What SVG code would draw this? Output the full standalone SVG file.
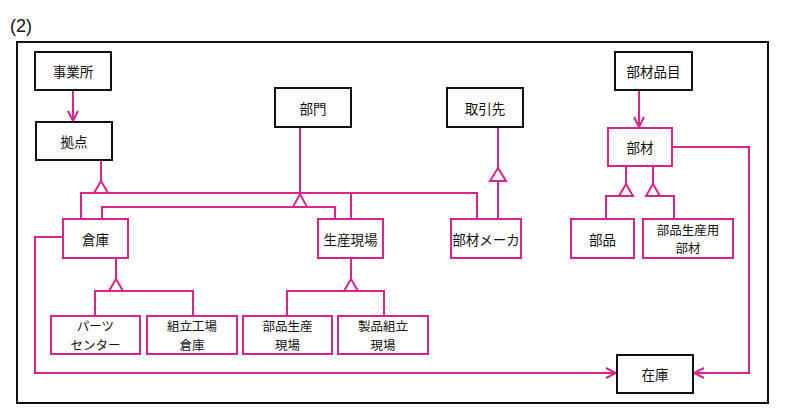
<svg xmlns="http://www.w3.org/2000/svg" width="800" height="418" viewBox="0 0 800 418">
<defs>
<style>
.bk{fill:#fff;stroke:#111;stroke-width:2}
.pk{fill:#fff;stroke:#d6268c;stroke-width:2}
.ln{fill:none;stroke:#d6268c;stroke-width:2}
.tri{fill:#fff;stroke:#d6268c;stroke-width:2;stroke-linejoin:miter}
text{font-family:"Noto Sans CJK JP","Noto Sans",sans-serif;font-size:13.5px;fill:#111;text-anchor:middle;dominant-baseline:central}
text.s{font-size:12.5px}
</style>
<marker id="arr" viewBox="0 0 12 12" refX="11" refY="6" markerWidth="12" markerHeight="12" markerUnits="userSpaceOnUse" orient="auto">
<path d="M1,1 L11,6 L1,11" fill="none" stroke="#d6268c" stroke-width="2"/>
</marker>
</defs>
<rect width="800" height="418" fill="#fff"/>
<text x="21" y="26" style="font-family:'Liberation Sans',sans-serif;font-size:18px">(2)</text>
<rect x="17" y="42" width="751" height="361" fill="none" stroke="#111" stroke-width="2"/>

<g id="connectors">
<line class="ln" x1="73" y1="90" x2="73" y2="121" marker-end="url(#arr)"/>
<line class="ln" x1="639" y1="90" x2="639" y2="127" marker-end="url(#arr)"/>
<line class="ln" x1="101" y1="160" x2="101" y2="181"/>
<polyline class="ln" points="81,219 81,193 477,193 477,219"/>
<line class="ln" x1="351" y1="193" x2="351" y2="219"/>
<polygon class="tri" points="101,181 94,193 108,193"/>
<line class="ln" x1="300" y1="127" x2="300" y2="194"/>
<polyline class="ln" points="102,219 102,207 335,207 335,219"/>
<polygon class="tri" points="300,194 293,207 307,207"/>
<line class="ln" x1="498" y1="127" x2="498" y2="219"/>
<polygon class="tri" points="498,168 490,181 506,181"/>
<line class="ln" x1="116" y1="258" x2="116" y2="279"/>
<polyline class="ln" points="95,316 95,291 193,291 193,316"/>
<polygon class="tri" points="116,279 109,291 123,291"/>
<line class="ln" x1="351" y1="258" x2="351" y2="279"/>
<polyline class="ln" points="287,316 287,291 384,291 384,316"/>
<polygon class="tri" points="351,279 344,291 358,291"/>
<line class="ln" x1="626" y1="166" x2="626" y2="184"/>
<polyline class="ln" points="606,219 606,196 626,196"/>
<polygon class="tri" points="626,184 619,196 633,196"/>
<line class="ln" x1="653" y1="166" x2="653" y2="184"/>
<polyline class="ln" points="653,196 674,196 674,219"/>
<polygon class="tri" points="653,184 646,196 660,196"/>
<polyline class="ln" points="672,147 749,147 749,373 694,373" marker-end="url(#arr)"/>
<polyline class="ln" points="63,237 35,237 35,373 616,373" marker-end="url(#arr)"/>
</g>

<g id="n-jigyosho"><rect class="bk" x="35" y="52" width="76" height="38"/><text x="73" y="71">事業所</text></g>
<g id="n-kyoten"><rect class="bk" x="36" y="122" width="76" height="38"/><text x="74" y="141">拠点</text></g>
<g id="n-bumon"><rect class="bk" x="275" y="88" width="76" height="39"/><text x="313" y="107.5">部門</text></g>
<g id="n-torihikisaki"><rect class="bk" x="447" y="88" width="76" height="39"/><text x="485" y="107.5">取引先</text></g>
<g id="n-buzaihinmoku"><rect class="bk" x="615" y="52" width="77" height="38"/><text x="653.5" y="71">部材品目</text></g>
<g id="n-zaiko"><rect class="bk" x="617" y="355" width="76" height="38"/><text x="655" y="374">在庫</text></g>
<g id="n-buzai"><rect class="pk" x="608" y="128" width="64" height="38"/><text x="640" y="147">部材</text></g>
<g id="n-souko"><rect class="pk" x="63" y="219" width="65" height="39"/><text x="95.5" y="238.5">倉庫</text></g>
<g id="n-seisangenba"><rect class="pk" x="318" y="219" width="65" height="39"/><text x="350.5" y="238.5">生産現場</text></g>
<g id="n-buzaimaker"><rect class="pk" x="451" y="219" width="70" height="39"/><text x="486" y="238.5">部材メーカ</text></g>
<g id="n-buhin"><rect class="pk" x="571" y="219" width="63" height="39"/><text x="602.5" y="238.5">部品</text></g>
<g id="n-buhinseisanyoubuzai"><rect class="pk" x="643" y="219" width="90" height="39"/><text class="s" x="688" y="229.25">部品生産用</text><text class="s" x="688" y="247.75">部材</text></g>
<g id="n-partscenter"><rect class="pk" x="51" y="316" width="89" height="38"/><text class="s" x="95.5" y="325.75">パーツ</text><text class="s" x="95.5" y="344.25">センター</text></g>
<g id="n-kumitatekoujousouko"><rect class="pk" x="147" y="316" width="90" height="38"/><text class="s" x="192" y="325.75">組立工場</text><text class="s" x="192" y="344.25">倉庫</text></g>
<g id="n-buhinseisangenba"><rect class="pk" x="243" y="316" width="89" height="38"/><text class="s" x="287.5" y="325.75">部品生産</text><text class="s" x="287.5" y="344.25">現場</text></g>
<g id="n-seihinkumitategenba"><rect class="pk" x="338" y="316" width="90" height="38"/><text class="s" x="383" y="325.75">製品組立</text><text class="s" x="383" y="344.25">現場</text></g>
</svg>
